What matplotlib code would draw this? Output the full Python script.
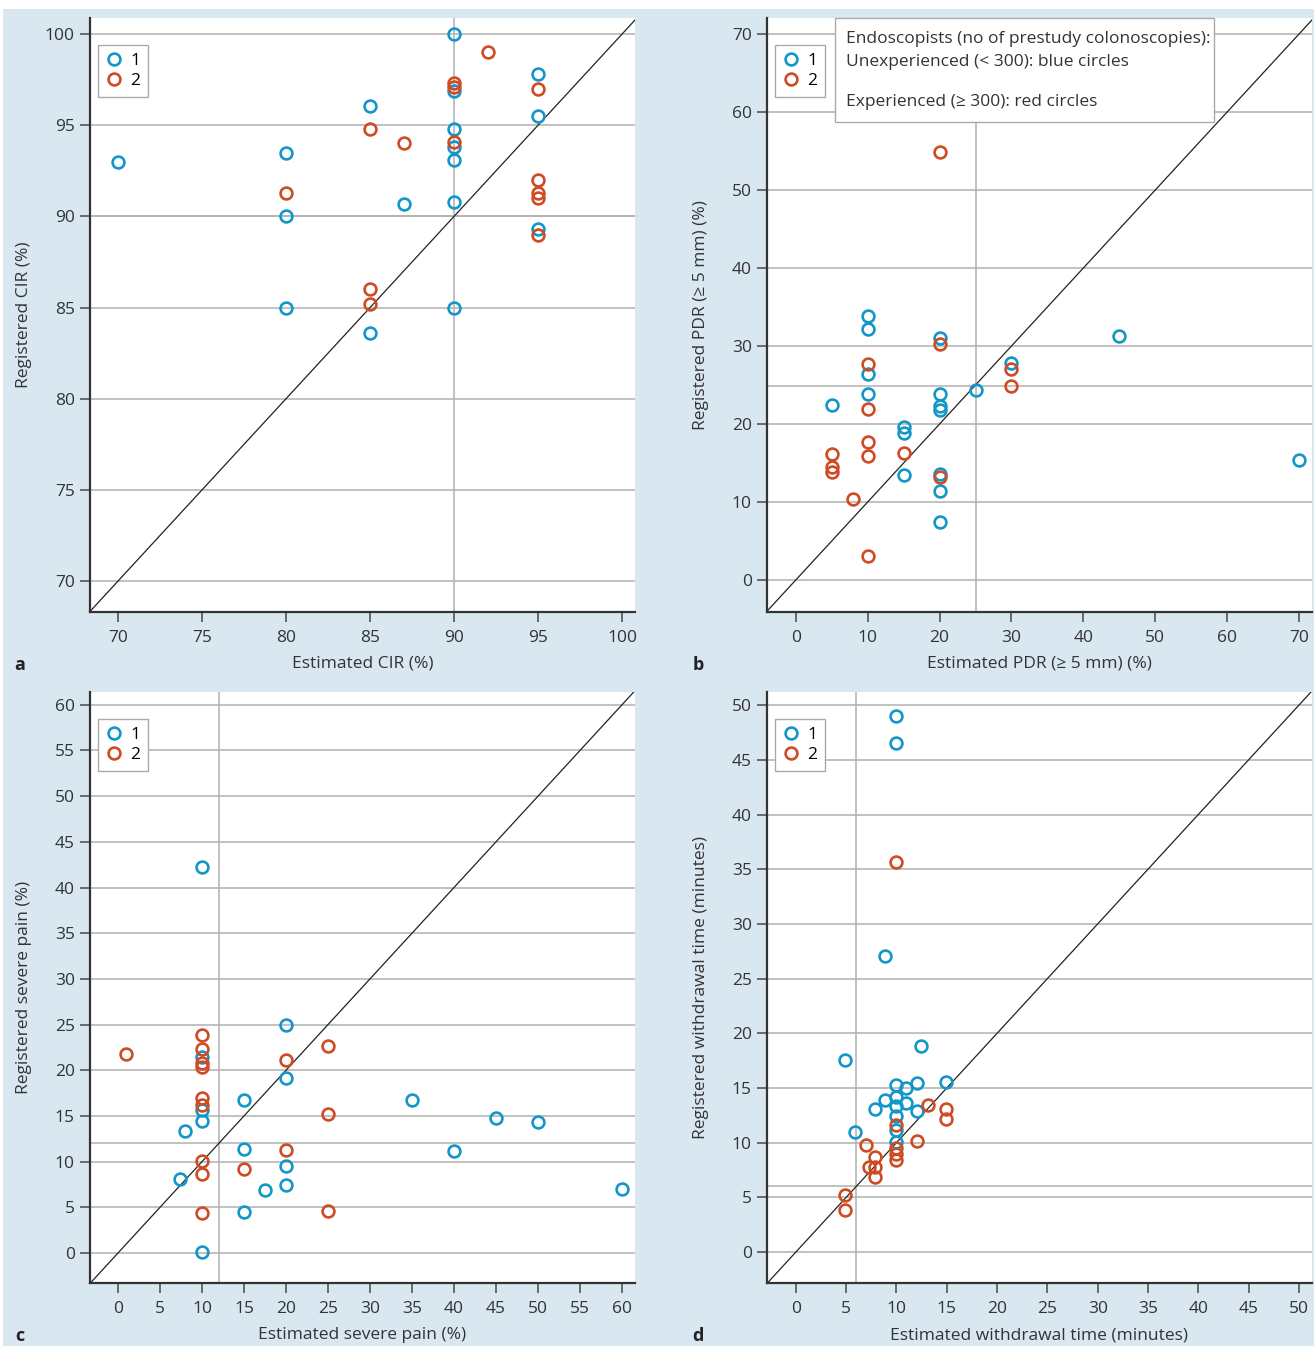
import matplotlib
matplotlib.use("Agg")
import matplotlib.pyplot as plt
from matplotlib.lines import Line2D
from matplotlib.patches import Rectangle

plt.rcParams['font.family'] = ['Open Sans', 'DejaVu Sans']

BLUE = '#1396c8'
RED = '#cf4b24'
BG = '#d8e7f0'
GRID = '#b0b0b0'

# ---------------- Panel a: CIR ----------------
a_blue_x = [90, 95, 90, 85, 95, 90, 80, 90, 90, 87, 90, 80, 95, 80, 90, 85, 70]
a_blue_y = [100.0, 97.8, 96.9, 96.05, 95.5, 94.8, 93.5, 93.8, 93.1, 90.7, 90.8, 90.0, 89.3, 85.0, 85.0, 83.6, 93.0]
a_red_x = [92, 90, 90, 95, 85, 87, 90, 80, 95, 95, 95, 95, 85, 85]
a_red_y = [99.0, 97.3, 97.1, 97.0, 94.8, 94.0, 94.1, 91.3, 92.0, 91.3, 91.0, 89.0, 86.0, 85.2]

# ---------------- Panel b: PDR ----------------
b_blue_x = [10, 10, 20, 30, 10, 10, 5, 20, 20, 20, 25, 15, 15, 15, 20, 20, 20, 45, 70]
b_blue_y = [33.9, 32.2, 31.0, 27.8, 26.4, 23.8, 22.4, 23.9, 22.35, 21.8, 24.4, 19.65, 18.9, 13.4, 13.6, 11.4, 7.5, 31.3, 15.4]
b_red_x = [20, 10, 30, 30, 10, 10, 10, 5, 5, 5, 15, 20, 8, 10, 20]
b_red_y = [30.3, 27.65, 27.0, 24.9, 21.95, 17.65, 15.9, 16.15, 14.5, 13.9, 16.3, 13.25, 10.4, 3.1, 54.9]

# ---------------- Panel c: severe pain ----------------
c_blue_x = [20, 10, 20, 15, 10, 10, 8, 15, 20, 7.4, 17.5, 20, 15, 10, 10, 35, 40, 45, 50, 60]
c_blue_y = [25.0, 21.4, 19.2, 16.7, 15.7, 14.5, 13.4, 11.35, 9.5, 8.1, 6.85, 7.5, 4.45, 0.15, 42.2, 16.75, 11.2, 14.8, 14.35, 7.0]
c_red_x = [0.9, 10, 10, 10, 10, 25, 20, 10, 10, 25, 20, 10, 10, 15, 10, 25]
c_red_y = [21.75, 23.9, 22.35, 20.8, 20.4, 22.65, 21.1, 17.0, 16.2, 15.25, 11.25, 10.05, 8.65, 9.15, 4.35, 4.55]

# ---------------- Panel d: withdrawal time ----------------
d_blue_x = [12.4, 4.9, 10, 10.9, 12, 14.9, 8.9, 10, 10, 10.9, 7.9, 12, 10, 10, 10, 5.9, 10, 10, 8.9]
d_blue_y = [18.8, 17.6, 15.25, 15.0, 15.45, 15.55, 13.9, 14.15, 13.35, 13.65, 13.05, 12.85, 12.45, 11.15, 10.1, 11.0, 49.0, 46.5, 27.05]
d_red_x = [10, 13.1, 14.9, 14.9, 12, 7, 10, 10, 10, 7.9, 7.3, 7.9, 7.9, 4.9, 4.9, 10]
d_red_y = [11.6, 13.45, 13.05, 12.15, 10.15, 9.8, 9.5, 9.0, 8.4, 8.7, 7.75, 7.75, 6.9, 5.2, 3.85, 35.7]

# medians (reference lines)
med_x = [90, 25, 12, 6]
med_y = [90, 24.9, 12, 6]

x_labels = ['Estimated CIR (%)', 'Estimated PDR (≥ 5 mm) (%)',
            'Estimated severe pain (%)', 'Estimated withdrawal time (minutes)']
y_labels = ['Registered CIR (%)', 'Registered PDR (≥ 5 mm) (%)',
            'Registered severe pain (%)', 'Registered withdrawal time (minutes)']
panel_letters = ['a', 'b', 'c', 'd']
note_lines = ['Endoscopists (no of prestudy colonoscopies):',
              'Unexperienced (< 300): blue circles',
              'Experienced (≥ 300): red circles']

xlims = [(68.33, 100.77), (-4.0, 71.8), (-3.33, 61.55), (-2.87, 51.3)]
ylims = [(68.3, 100.88), (-4.1, 72.05), (-3.28, 61.4), (-2.83, 51.2)]
xticks = [list(range(70, 101, 5)), list(range(0, 71, 10)), list(range(0, 61, 5)), list(range(0, 51, 5))]
yticks = [list(range(70, 101, 5)), list(range(0, 71, 10)), list(range(0, 61, 5)), list(range(0, 51, 5))]

data = [(a_blue_x, a_blue_y, a_red_x, a_red_y),
        (b_blue_x, b_blue_y, b_red_x, b_red_y),
        (c_blue_x, c_blue_y, c_red_x, c_red_y),
        (d_blue_x, d_blue_y, d_red_x, d_red_y)]

W, H = 1314, 1346
fig = plt.figure(figsize=(W / 100, H / 100), dpi=100)
fig.patch.set_facecolor(BG)
fig.add_artist(Rectangle((0, 1 - 9 / H), 1, 9 / H, transform=fig.transFigure,
                         facecolor='white', edgecolor='none', zorder=-1))
fig.add_artist(Rectangle((0, 0), 3 / W, 1, transform=fig.transFigure,
                         facecolor='white', edgecolor='none', zorder=-1))

boxes = [(90, 18, 545, 594), (767, 18, 545, 594), (90, 692, 545, 591), (767, 692, 545, 591)]
letter_pos = [(20, 665), (698, 665), (20, 1336), (698, 1336)]

for i in range(4):
    l, t, w, h = boxes[i]
    ax = fig.add_axes([l / W, 1 - (t + h) / H, w / W, h / H])
    ax.set_facecolor('white')
    ax.set_xlim(*xlims[i])
    ax.set_ylim(*ylims[i])
    ax.set_xticks(xticks[i])
    ax.set_yticks(yticks[i])
    for s in ['top', 'right']:
        ax.spines[s].set_visible(False)
    for s in ['left', 'bottom']:
        ax.spines[s].set_linewidth(1.6)
        ax.spines[s].set_color('#333333')
    ax.tick_params(direction='out', length=7, width=1.2, color='#555555',
                   labelsize=12.5, labelcolor='#333333', pad=4)
    ax.tick_params(axis='x', pad=6)
    for yv in yticks[i]:
        ax.axhline(yv, color=GRID, lw=1.1, zorder=1)
    ax.axvline(med_x[i], color=GRID, lw=1.1, zorder=1)
    ax.axhline(med_y[i], color=GRID, lw=1.1, zorder=1)
    ax.axline((0, 0), slope=1, color='#222222', lw=0.9, zorder=2)

    bx, by, rx, ry = data[i]
    ax.plot(bx, by, 'o', ls='none', mfc='none', mec=BLUE, mew=1.9, ms=8.5, zorder=3, clip_on=False)
    ax.plot(rx, ry, 'o', ls='none', mfc='none', mec=RED, mew=1.9, ms=8.5, zorder=3, clip_on=False)

    ax.set_xlabel(x_labels[i], fontsize=12.5, color='#333333')
    ax.set_ylabel(y_labels[i], fontsize=12.5, color='#333333')
    ax.xaxis.set_label_coords(0.5, -44 / h)
    ax.yaxis.set_label_coords(-58 / w, 0.5)

    handles = [Line2D([], [], marker='o', ls='none', mfc='none', mec=BLUE, mew=1.9, ms=8.5),
               Line2D([], [], marker='o', ls='none', mfc='none', mec=RED, mew=1.9, ms=8.5)]
    leg = ax.legend(handles, ['1', '2'], loc='upper left', bbox_to_anchor=(8 / w, 1 - 27 / h),
                    borderaxespad=0, fancybox=False, framealpha=1, edgecolor='#aaaaaa',
                    fontsize=12.5, handlelength=1.0, handletextpad=0.4, borderpad=0.45,
                    labelspacing=0.25)
    leg.get_frame().set_linewidth(1.0)

    lx, ly = letter_pos[i]
    fig.text(lx / W, 1 - ly / H, panel_letters[i], fontsize=13, fontweight='bold',
             color='#222222', ha='center', va='center')

    if i == 1:
        ax.add_patch(Rectangle(((835 - l) / w, (t + h - 122) / h), (1214 - 835) / w, (122 - 18) / h,
                               transform=ax.transAxes, facecolor='white', edgecolor='#aaaaaa',
                               lw=1.0, zorder=5, clip_on=False))
        for txt, py in zip(note_lines, [39, 62, 102]):
            ax.text((846 - l) / w, (t + h - py) / h, txt, transform=ax.transAxes,
                    ha='left', va='center', fontsize=12.5, color='#333333', zorder=6)

fig.savefig('out.png', dpi=100, facecolor=fig.get_facecolor())
